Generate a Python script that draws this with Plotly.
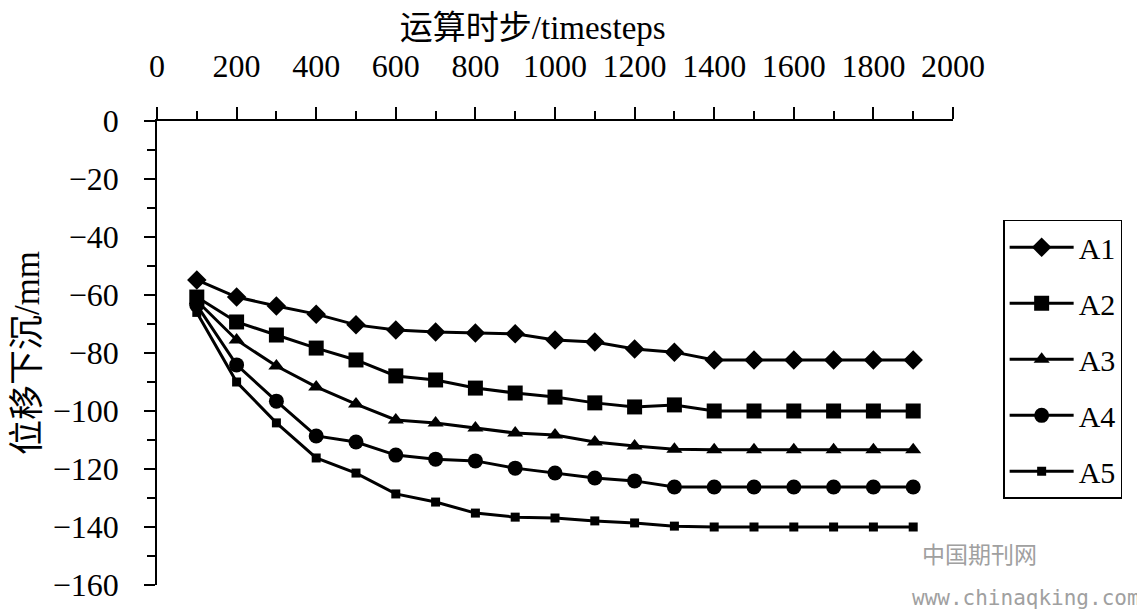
import plotly.graph_objects as go

steps = [100, 200, 300, 400, 500, 600, 700, 800, 900, 1000,
         1100, 1200, 1300, 1400, 1500, 1600, 1700, 1800, 1900]

A1 = [-54.8, -60.7, -63.8, -66.6, -70.3, -72.1, -72.8, -73.1, -73.4, -75.5,
      -76.2, -78.6, -79.7, -82.4, -82.4, -82.4, -82.4, -82.4, -82.4]
A2 = [-60.7, -69.3, -73.8, -78.3, -82.4, -87.9, -89.3, -92.1, -93.8, -95.2,
      -97.2, -98.6, -97.9, -100.0, -100.0, -100.0, -100.0, -100.0, -100.0]
A3 = [-62.0, -75.5, -84.5, -91.7, -97.6, -103.1, -104.1, -105.9, -107.6, -108.3,
      -110.7, -112.1, -113.2, -113.4, -113.4, -113.4, -113.4, -113.4, -113.4]
A4 = [-63.5, -84.1, -96.6, -108.6, -110.7, -115.2, -116.6, -117.2, -119.7, -121.4,
      -123.1, -124.1, -126.2, -126.2, -126.2, -126.2, -126.2, -126.2, -126.2]
A5 = [-66.0, -90.0, -104.1, -116.2, -121.4, -128.6, -131.4, -135.2, -136.6, -136.9,
      -137.9, -138.6, -139.7, -140.0, -140.0, -140.0, -140.0, -140.0, -140.0]

series = [("A1", A1, "diamond", 15), ("A2", A2, "square", 15),
          ("A3", A3, "triangle-up", 14), ("A4", A4, "circle", 15),
          ("A5", A5, "square", 9)]

x_title = "运算时步/timesteps"
y_title = "位移下沉/mm"

serif = "Liberation Serif, Noto Sans CJK SC, serif"

fig = go.Figure()
for i, (name, vals, sym, sz) in enumerate(series):
    fig.add_trace(go.Scatter(
        x=steps, y=vals, name=name, mode="lines+markers",
        legendgroup=name,
        line=dict(color="black", width=3),
        marker=dict(symbol=sym, size=sz, color="black"),
    ))

# page body has an 8px margin: figure is placed at (8, 8)
fig.update_layout(
    width=1137, height=604,
    margin=dict(l=149, r=192, t=113, b=27, autoexpand=False),
    paper_bgcolor="white", plot_bgcolor="white",
    font=dict(family=serif, color="black", size=30),
    title=dict(text=x_title, font=dict(size=33, family=serif, color="black"),
               xref="paper", x=0.472, xanchor="center",
               yref="container", y=0.968, yanchor="middle"),
    showlegend=True,
    legend=dict(
        x=1.063, y=0.787, xanchor="left", yanchor="top",
        bordercolor="black", borderwidth=1.5,
        font=dict(size=30, family=serif),
        tracegroupgap=14, itemwidth=64,
        bgcolor="white",
    ),
    xaxis=dict(
        range=[0, 2000], side="top", dtick=200, tick0=0,
        automargin=False,
        showline=True, linecolor="black", linewidth=1.5,
        ticks="outside", ticklen=12, tickcolor="black", tickwidth=1.5,
        minor=dict(dtick=100, ticklen=8, ticks="outside", tickcolor="black", tickwidth=1.5),
        showgrid=False, zeroline=False,
        tickfont=dict(size=32, family=serif),
        ticklabelstandoff=17,
    ),
    yaxis=dict(
        range=[-160, 0], dtick=20, tick0=0,
        automargin=False,
        showline=True, linecolor="black", linewidth=1.5,
        ticks="outside", ticklen=11, tickcolor="black", tickwidth=1.5,
        minor=dict(dtick=10, ticklen=8, ticks="outside", tickcolor="black", tickwidth=1.5),
        showgrid=False, zeroline=False,
        tickfont=dict(size=32, family=serif),
        tickformat="d",
        ticklabelstandoff=19,
        title=dict(text=y_title, font=dict(size=35, family=serif), standoff=16),
    ),
)

fig.add_annotation(text="中国期刊网", xref="paper", yref="paper",
                   x=1.0327, y=0.069, xanchor="center", yanchor="middle",
                   showarrow=False, font=dict(size=23, color="#a0a0a0",
                                              family="Noto Sans CJK SC"))
fig.add_annotation(text="www.chinaqking.com", xref="paper", yref="paper",
                   x=1.2375, y=-0.028, xanchor="right", yanchor="middle",
                   showarrow=False, font=dict(size=21, color="#a0a0a0",
                                              family="DejaVu Sans Mono"))

fig.write_html("out.html")
